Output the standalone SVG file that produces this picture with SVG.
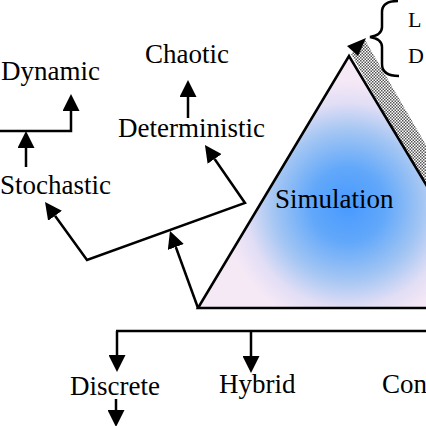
<svg xmlns="http://www.w3.org/2000/svg" width="426" height="426" viewBox="0 0 426 426">
  <style>
    .t { font-family: "Liberation Serif", "Times New Roman", serif; font-size: 27px; fill: #000; }
    .s { font-family: "Liberation Serif", "Times New Roman", serif; font-size: 22px; fill: #000; }
    .c { fill: none; stroke: #000; stroke-width: 2.5; stroke-linejoin: miter; }
  </style>
  <defs>
    <marker id="ah" viewBox="0 0 17 17" refX="0" refY="8.5" markerWidth="17" markerHeight="17" markerUnits="userSpaceOnUse" orient="auto-start-reverse">
      <path d="M0,0 L17,8.5 L0,17 z" fill="#000"/>
    </marker>
    <radialGradient id="sim" gradientUnits="userSpaceOnUse" cx="348" cy="205" r="125">
      <stop offset="0" stop-color="#4799ff"/>
      <stop offset="0.3" stop-color="#62a8fa"/>
      <stop offset="0.6" stop-color="#a4c6f3"/>
      <stop offset="0.82" stop-color="#e2def5"/>
      <stop offset="1" stop-color="#f6e9f6"/>
    </radialGradient>
    <pattern id="chk" width="3" height="3" patternUnits="userSpaceOnUse">
      <rect width="3" height="3" fill="#fff"/>
      <rect width="1.5" height="1.5" fill="#555"/>
      <rect x="1.5" y="1.5" width="1.5" height="1.5" fill="#555"/>
    </pattern>
  </defs>
  <rect width="426" height="426" fill="#fff"/>

  <g id="band">
    <polygon points="351,54 365,40 426,145 426,186" fill="url(#chk)"/>
  </g>

  <g id="simulation">
    <polygon points="198,308 349,56 500,308" fill="url(#sim)" stroke="#000" stroke-width="2.5"/>
    <text class="t" x="275" y="208">Simulation</text>
  </g>

  <g id="brace">
    <path class="c" d="M398,1 Q382,1 382,12 L382,27 Q382,35 370,37 Q382,39 382,47 L382,64 Q382,76 399,76" stroke-width="2"/>
    <text class="s" x="408" y="27">L</text>
    <text class="s" x="408" y="63">D</text>
  </g>

  <g id="dynamic"><text class="t" x="1" y="80">Dynamic</text></g>
  <g id="chaotic"><text class="t" x="145" y="63">Chaotic</text></g>
  <g id="deterministic"><text class="t" x="118" y="137">Deterministic</text></g>
  <g id="stochastic"><text class="t" x="0" y="194">Stochastic</text></g>
  <g id="discrete"><text class="t" x="70" y="395">Discrete</text></g>
  <g id="hybrid"><text class="t" x="219" y="393">Hybrid</text></g>
  <g id="continuous"><text class="t" x="382" y="393">Con</text></g>

  <g id="connectors">
    <path class="c" d="M-2,131 H71 V111" marker-end="url(#ah)"/>
    <path class="c" d="M26,167 V148" marker-end="url(#ah)"/>
    <path class="c" d="M188,118 V97" marker-end="url(#ah)"/>
    <path class="c" d="M214.6,159 L245,203 L87,260 L55,215.8" marker-start="url(#ah)" marker-end="url(#ah)"/>
    <path class="c" d="M198,308 L175.8,247" marker-end="url(#ah)"/>
    <polygon points="366,38 347,46 358,56" fill="#000"/>
    <path class="c" d="M116,331 H428"/>
    <path class="c" d="M117,331 V355" marker-end="url(#ah)"/>
    <path class="c" d="M251,331 V356" marker-end="url(#ah)"/>
    <path class="c" d="M116,399 V410" marker-end="url(#ah)"/>
  </g>
</svg>
